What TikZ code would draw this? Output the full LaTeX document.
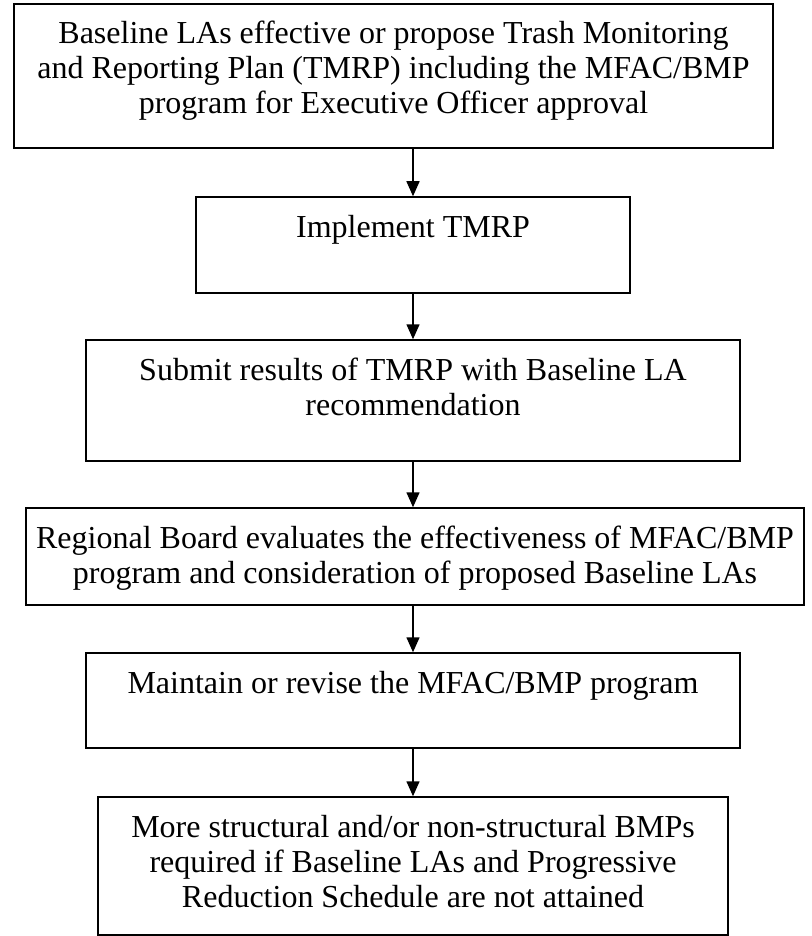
\documentclass[tikz,border=0pt]{standalone}
\usepackage{fontspec}
\setmainfont{Liberation Serif}
\usetikzlibrary{positioning,arrows.meta}
\tikzset{stage/.style={draw,line width=1.5pt,inner sep=0pt}}
\tikzset{words/.style={align=center,font=\fontsize{32}{35}\selectfont,inner sep=0pt,anchor=base}}
\tikzset{flow/.style={-{Triangle[length=15pt,width=13pt]},line width=1.5pt}}

\begin{document}
\begin{tikzpicture}[x=1pt,y=-1pt]
  \useasboundingbox (0,0) rectangle (811,936);
  % Boxes, centres in pixels from the top left
  \node[stage,line width=2pt,minimum width=759pt,minimum height=144pt] (plan) at (393.5,76) {};
  \node[stage,minimum width=434pt,minimum height=96pt] (impl) at (413,245) {};
  \node[stage,minimum width=654pt,minimum height=121pt] (submit) at (413,400.5) {};
  \node[stage,minimum width=778pt,minimum height=97pt] (evaluate) at (415,556.5) {};
  \node[stage,minimum width=654pt,minimum height=95pt] (maintain) at (413,700.5) {};
  \node[stage,minimum width=630pt,minimum height=138pt] (require) at (413,866) {};

  % Texts, anchored on the baseline of the last line
  \node[words] (plantxt) at ([yshift=-111pt]plan.north) {Baseline LAs effective or propose Trash Monitoring\\and Reporting Plan (TMRP) including the MFAC/BMP\\program for Executive Officer approval};
  \node[words] (impltxt) at ([yshift=-41pt]impl.north) {Implement TMRP};
  \node[words] (submittxt) at ([yshift=-76pt]submit.north) {Submit results of TMRP with Baseline LA\\recommendation};
  \node[words] (evaluatetxt) at ([yshift=-76pt]evaluate.north) {Regional Board evaluates the effectiveness of MFAC/BMP\\program and consideration of proposed Baseline LAs};
  \node[words] (maintaintxt) at ([yshift=-41pt]maintain.north) {Maintain or revise the MFAC/BMP program};
  \node[words] (requiretxt) at ([yshift=-111pt]require.north) {More structural and/or non-structural BMPs\\required if Baseline LAs and Progressive\\Reduction Schedule are not attained};

  % Arrows
  \draw[flow] (plan.south -| impl.north) -- (impl.north);
  \draw[flow] (impl.south) -- (submit.north);
  \draw[flow] (submit.south) -- (submit.south |- evaluate.north);
  \draw[flow] (evaluate.south -| maintain.north) -- (maintain.north);
  \draw[flow] (maintain.south) -- (require.north);

\end{tikzpicture}
\end{document}
